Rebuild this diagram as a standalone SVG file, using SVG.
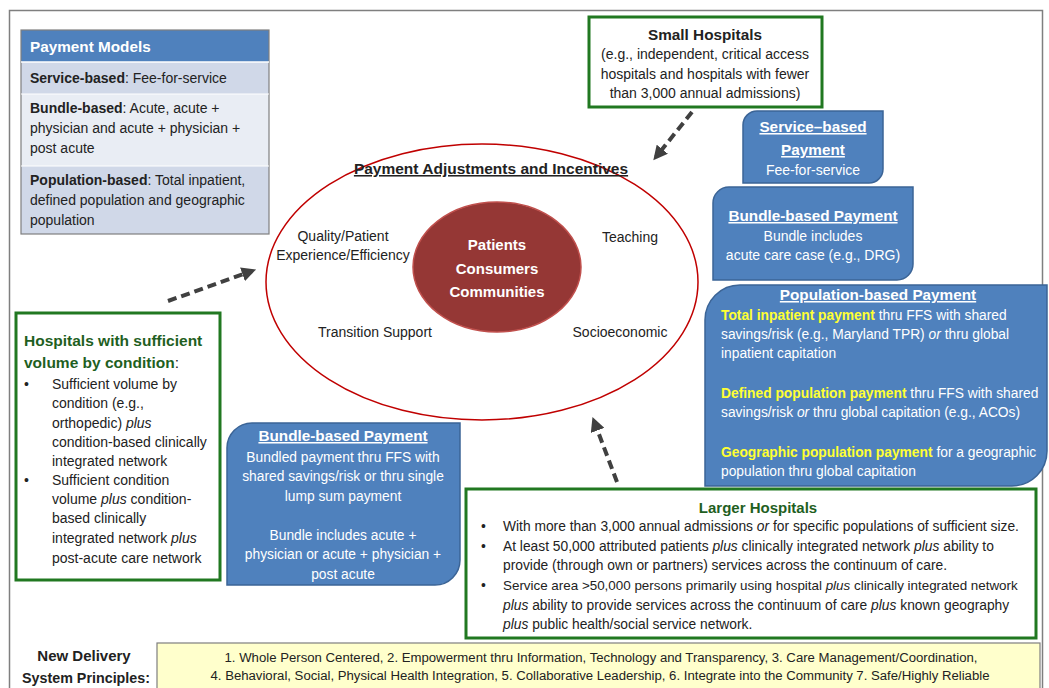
<svg xmlns="http://www.w3.org/2000/svg" width="1049" height="688" viewBox="0 0 1049 688">
<style>
text{font-family:"Liberation Sans",Arial,sans-serif;fill:#222;}
.b{font-weight:bold;}
.i{font-style:italic;}
.w{fill:#fff;}
.y{fill:#ffff33;font-weight:bold;}
.g{fill:#1f5f1f;font-weight:bold;}
.u{text-decoration:underline;}
.blue{fill:#4f81bd;stroke:#3b6496;stroke-width:1.5;}
.green{fill:#fff;stroke:#217821;stroke-width:3;}
.arr{fill:none;stroke:#404040;stroke-width:4;stroke-dasharray:9 5;marker-end:url(#ah);}
.s14{font-size:14px;}
.s13{font-size:13.8px;}
.t{font-size:15.3px;font-weight:bold;}
.mid{text-anchor:middle;}
</style>
<defs>
<marker id="ah" viewBox="0 0 10 10" refX="7" refY="5" markerWidth="3.6" markerHeight="3.6" orient="auto" markerUnits="strokeWidth">
<path d="M0,0 L10,5 L0,10 z" fill="#404040"/>
</marker>
</defs>
<rect x="9.5" y="10.5" width="1033" height="700" fill="#fff" stroke="#7f7f7f" stroke-width="1.5"/>

<g id="payment-models">
<rect x="21" y="30" width="248" height="32" fill="#4f81bd"/>
<rect x="21" y="62" width="248" height="32" fill="#d0d8e8"/>
<rect x="21" y="94" width="248" height="72" fill="#e9edf4"/>
<rect x="21" y="166" width="248" height="68" fill="#d0d8e8"/>
<rect x="21" y="30" width="248" height="204" fill="none" stroke="#7f7f7f" stroke-width="1.2"/>
<line x1="21" y1="62" x2="269" y2="62" stroke="#fff" stroke-width="1.5"/>
<line x1="21" y1="94" x2="269" y2="94" stroke="#fff" stroke-width="1"/>
<line x1="21" y1="166" x2="269" y2="166" stroke="#fff" stroke-width="1"/>
<text x="30" y="52" class="t w">Payment Models</text>
<text x="30" y="83" class="s14"><tspan class="b">Service-based</tspan>: Fee-for-service</text>
<text x="30" y="113" class="s14"><tspan class="b">Bundle-based</tspan>: Acute, acute +</text>
<text x="30" y="133" class="s14">physician and acute + physician +</text>
<text x="30" y="153" class="s14">post acute</text>
<text x="30" y="185" class="s14"><tspan class="b">Population-based</tspan>: Total inpatient,</text>
<text x="30" y="205" class="s14">defined population and geographic</text>
<text x="30" y="225" class="s14">population</text>
</g>

<g id="small-hospitals">
<rect x="589" y="17" width="233" height="90" class="green"/>
<text x="705" y="40" class="t mid">Small Hospitals</text>
<text x="705" y="59" class="s14 mid">(e.g., independent, critical access</text>
<text x="705" y="79" class="s14 mid">hospitals and hospitals with fewer</text>
<text x="705" y="98" class="s14 mid">than 3,000 annual admissions)</text>
</g>

<g id="payment-adjustments">
<ellipse cx="482" cy="282" rx="216" ry="138" fill="#fff" stroke="#c00000" stroke-width="1.5"/>
<text x="491" y="174" class="b u mid" font-size="15.5">Payment Adjustments and Incentives</text>
<text x="343" y="241" class="s14 mid">Quality/Patient</text>
<text x="343" y="260" class="s14 mid">Experience/Efficiency</text>
<text x="630" y="242" class="s14 mid">Teaching</text>
<text x="375" y="337" class="s14 mid">Transition Support</text>
<text x="620" y="337" class="s14 mid">Socioeconomic</text>
</g>

<g id="patients">
<ellipse cx="497" cy="267" rx="84" ry="65" fill="#953735" stroke="#c0504d" stroke-width="1.5"/>
<text x="497" y="250" class="b w mid" font-size="15">Patients</text>
<text x="497" y="274" class="b w mid" font-size="15">Consumers</text>
<text x="497" y="297" class="b w mid" font-size="15">Communities</text>
</g>

<g id="service-based-payment">
<path d="M757,111 H883 V169 A14 14 0 0 1 869,183 H743 V125 A14 14 0 0 1 757,111 Z" class="blue"/>
<text x="813" y="132" class="t w u mid">Service–based</text>
<text x="813" y="155" class="t w u mid">Payment</text>
<text x="813" y="175" class="w s14 mid">Fee-for-service</text>
</g>

<g id="bundle-based-payment-right">
<path d="M729,187 H913 V264 A16 16 0 0 1 897,280 H713 V203 A16 16 0 0 1 729,187 Z" class="blue"/>
<text x="813" y="221" class="t w u mid">Bundle-based Payment</text>
<text x="813" y="241" class="w s14 mid">Bundle includes</text>
<text x="813" y="260" class="w s14 mid">acute care case (e.g., DRG)</text>
</g>

<g id="population-based-payment">
<path d="M740,285 H1047 V451 A35 35 0 0 1 1012,486 H705 V320 A35 35 0 0 1 740,285 Z" class="blue"/>
<text x="878" y="300" class="t w u mid">Population-based Payment</text>
<text x="721" y="320" class="s13 w"><tspan class="y">Total inpatient payment</tspan> thru FFS with shared</text>
<text x="721" y="339" class="s13 w">savings/risk (e.g., Maryland TPR) <tspan class="i w">or</tspan> thru global</text>
<text x="721" y="358" class="s13 w">inpatient capitation</text>
<text x="721" y="398" class="s13 w"><tspan class="y">Defined population payment</tspan> thru FFS with shared</text>
<text x="721" y="417" class="s13 w">savings/risk <tspan class="i w">or</tspan> thru global capitation (e.g., ACOs)</text>
<text x="721" y="457" class="s13 w"><tspan class="y">Geographic population payment</tspan> for a geographic</text>
<text x="721" y="476" class="s13 w">population thru global capitation</text>
</g>

<g id="hospitals-sufficient-volume">
<rect x="16" y="313" width="204" height="267" class="green"/>
<text x="24" y="346" class="g" font-size="15.5">Hospitals with sufficient</text>
<text x="24" y="368" font-size="15.5"><tspan class="g">volume by condition</tspan>:</text>
<g class="s14">
<text x="24" y="389">•</text>
<text x="52" y="389">Sufficient volume by</text>
<text x="52" y="408">condition (e.g.,</text>
<text x="52" y="428">orthopedic) <tspan class="i">plus</tspan></text>
<text x="52" y="447">condition-based clinically</text>
<text x="52" y="466">integrated network</text>
<text x="24" y="485">•</text>
<text x="52" y="485">Sufficient condition</text>
<text x="52" y="504">volume <tspan class="i">plus</tspan> condition-</text>
<text x="52" y="523">based clinically</text>
<text x="52" y="543">integrated network <tspan class="i">plus</tspan></text>
<text x="52" y="563">post-acute care network</text>
</g>
</g>

<g id="bundle-based-payment-bottom">
<path d="M252,423 H460 V560 A25 25 0 0 1 435,585 H227 V448 A25 25 0 0 1 252,423 Z" class="blue"/>
<text x="343" y="441" class="t w u mid">Bundle-based Payment</text>
<text x="343" y="462" class="w s13 mid">Bundled payment thru FFS with</text>
<text x="343" y="481" class="w s13 mid">shared savings/risk or thru single</text>
<text x="343" y="501" class="w s13 mid">lump sum payment</text>
<text x="343" y="540" class="w s13 mid">Bundle includes acute +</text>
<text x="343" y="559" class="w s13 mid">physician or acute + physician +</text>
<text x="343" y="579" class="w s13 mid">post acute</text>
</g>

<g id="larger-hospitals">
<rect x="466" y="489" width="570" height="149" class="green"/>
<text x="758" y="513" class="g mid" font-size="15">Larger Hospitals</text>
<g class="s13">
<text x="481" y="531">•</text>
<text x="503" y="531">With more than 3,000 annual admissions <tspan class="i">or</tspan> for specific populations of sufficient size.</text>
<text x="481" y="551">•</text>
<text x="503" y="551">At least 50,000 attributed patients <tspan class="i">plus</tspan> clinically integrated network <tspan class="i">plus</tspan> ability to</text>
<text x="503" y="570">provide (through own or partners) services across the continuum of care.</text>
<text x="481" y="590">•</text>
<text x="503" y="590" font-size="13.4">Service area &gt;50,000 persons primarily using hospital <tspan class="i">plus</tspan> clinically integrated network</text>
<text x="503" y="610"><tspan class="i">plus</tspan> ability to provide services across the continuum of care <tspan class="i">plus</tspan> known geography</text>
<text x="503" y="629"><tspan class="i">plus</tspan> public health/social service network.</text>
</g>
</g>

<g id="delivery-principles">
<text x="84" y="661" class="b mid" font-size="15">New Delivery</text>
<text x="86" y="683" class="b mid" font-size="15" textLength="128" lengthAdjust="spacingAndGlyphs">System Principles:</text>
<rect x="157" y="643" width="883" height="50" fill="#ffffcc" stroke="#7f7f7f" stroke-width="1.2"/>
<text x="601" y="662" class="mid" font-size="12.5" textLength="753" lengthAdjust="spacingAndGlyphs">1. Whole Person Centered, 2. Empowerment thru Information, Technology and Transparency, 3. Care Management/Coordination,</text>
<text x="600" y="680" class="mid" font-size="12.5" textLength="779" lengthAdjust="spacingAndGlyphs">4. Behavioral, Social, Physical Health Integration, 5. Collaborative Leadership, 6. Integrate into the Community  7. Safe/Highly Reliable</text>
</g>

<g id="connectors">
<line x1="168" y1="301" x2="252" y2="271" class="arr"/>
<line x1="692" y1="112" x2="656" y2="157" class="arr"/>
<line x1="617" y1="482" x2="594" y2="421" class="arr"/>
</g>
</svg>
